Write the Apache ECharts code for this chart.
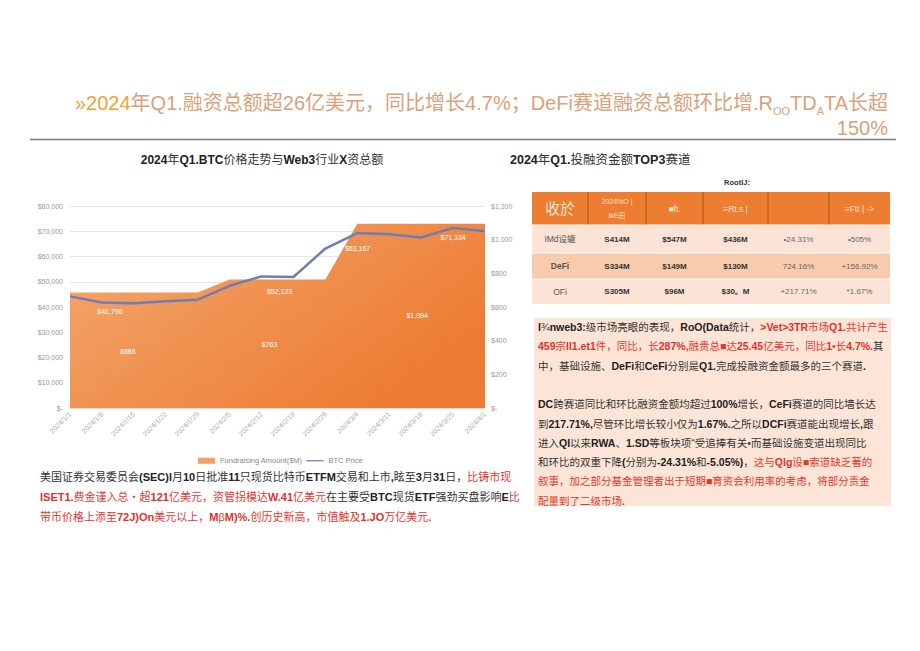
<!DOCTYPE html>
<html><head><meta charset="utf-8">
<script src="https://cdn.jsdelivr.net/npm/echarts@6/dist/echarts.min.js"></script>
<style>html,body{margin:0;padding:0;background:#fff}#c{width:920px;height:651px}</style>
</head><body><div id="c"></div>
<script>
// ---------- data ----------
const categories = ['2024/1/1','2024/1/8','2024/1/15','2024/1/22','2024/1/29','2024/2/5','2024/2/12','2024/2/19','2024/2/26','2024/3/4','2024/3/11','2024/3/18','2024/3/25','2024/4/1'];
const fundraising = [686,686,686,686,686,763,763,763,763,1094,1094,1094,1094,1094];
const btcPrice = [44200,41796,41500,42300,42900,48400,52123,51900,63167,69300,68800,67500,71334,70000];
const leftTickLabels = ['$-','$10,000','$20,000','$30,000','$40,000','$50,000','$60,000','$70,000','$80,000'];
const rightTickLabels = ['$-','$200','$400','$600','$800','$1,000','$1,200'];
const fundLabelIdx = [2,6,11];
const btcLabelIdx = [1,6,8,12];
const tableHeader = ['收於','2024%O |\nlkE田','■ft.','≡Rt.s |','','≡Ftt | ->'];
const tableRows = [
  ['IMd设辘','S414M','$547M','$436M','•24.31%','•505%'],
  ['DeFi','S334M','$149M','$130M','724.16%','+156.92%'],
  ['OFi','S305M','$96M','$30。M','+217.71%','*1.67%']
];
const pageTitle = '»2024年Q1.融资总额超26亿美元，同比增长4.7%；DeFi赛道融资总额环比增.RooTDATA长超150%';
const leftChartTitle = '2024年Q1.BTC价格走势与Web3行业X资总额';
const rightChartTitle = '2024年Q1.投融资金额TOP3赛道';
const tableNote = 'RootIJ:';
const leftNote = [
  [['k','美国证券交易委员会(SEC)l月10日批准11只现货比特币ETFM交易和上市,眩至3月31日，'],['r','比铸市现']],
  [['r','ISET1.费金谨入总・超121亿美元，资管拐模达W.41亿美元'],['k','在主要受BTC现货ETF强劲买盘影响E'],['r','比']],
  [['r','带币价格上添至72J)On美元以上，MβM)%.创历史新高，市值触及1.JO万亿美元.']]
];
const rightNote = [
  [['k','I¾nweb3:级市场亮眼的表现，RoO(Data统计，'],['r','>Vet>3TR市场Q1.共计产生']],
  [['r','459宗ll1.et1件，同比，长287%,融贵总■达25.45亿美元，同比1•长4.7%.'],['k','其']],
  [['k','中，基础设施、DeFi和CeFi分别是Q1.完成投融资金额最多的三个赛道.']],
  [],
  [['k','DC跨赛道同比和环比融资金额均超过100%增长，CeFi赛道的同比墙长达']],
  [['k','到217.71%,尽管环比增长较小仅为1.67%.之所以DCFi赛道能出现增长,跟']],
  [['k','进入QI以来RWA、1.SD等板块项“受追捧有关•而基础设施变道出现同比']],
  [['k','和环比的双重下降(分别为-24.31%和-5.05%)，'],['r','这与QIg设■索道缺乏著的']],
  [['r','叙事，加之部分基金管理者出于短期■育资会利用率的考虑，将部分责金']],
  [['r','配量到了二级市场.']]
];

// ---------- helpers ----------
const FF = "'Liberation Sans','Noto Sans CJK SC',sans-serif";
function mixRich(segs){
  return segs.map(([c,t]) => (t.match(/[\x00-\x7F]+|[^\x00-\x7F]+/g)||[]).map(p =>
    '{' + c + (/[\x00-\x7F]/.test(p[0]) ? 'b' : 'n') + '|' + p + '}').join('')).join('');
}
function richStyles(size, lh){
  const mk = (color, w) => ({fill:color, fontWeight:w, fontSize:size, lineHeight:lh, fontFamily:FF});
  return {kb:mk('#222','bold'), kn:mk('#333','normal'), rb:mk('#e2312c','bold'), rn:mk('#e5392f','normal')};
}
const fmt = v => '$' + Math.round(v).toLocaleString('en-US');

// ---------- series data ----------
const fundData = fundraising.map((v,i) => {
  const k = fundLabelIdx.indexOf(i);
  if (k < 0) return v;
  const offs = [[-6,50],[8,56],[-4,83]][k];
  return {value:v, symbol:'circle', symbolSize:1,
    label:{show:true, position:'bottom', offset:offs, color:'#fff', fontSize:7, fontFamily:FF, formatter:p=>fmt(p.value)}};
});
const btcData = btcPrice.map((v,i) => {
  const k = btcLabelIdx.indexOf(i);
  if (k < 0) return v;
  const cfg = [['bottom',[8,0]],['bottom',[18,6]],['right',[14,0]],['bottom',[0,1]]][k];
  return {value:v, symbol:'circle', symbolSize:1,
    label:{show:true, position:cfg[0], offset:cfg[1], color:'#fff', fontSize:7, fontFamily:FF, formatter:p=>fmt(p.value)}};
});

// ---------- graphic elements ----------
const g = [];
const tMain = pageTitle.slice(0, pageTitle.indexOf('.RooTDATA'));
g.push({type:'text', x:75, y:103, style:{
  text:'{o|»2024}{t|' + tMain.slice(5) + '.R}{s|OO}{t|TD}{s|A}{t|TA长超}',
  verticalAlign:'middle',
  rich:{
    o:{fill:'#f1a238', fontSize:20, fontFamily:FF, lineHeight:26},
    t:{fill:'#d8a27a', fontSize:20, fontFamily:FF, lineHeight:26},
    s:{fill:'#d8a27a', fontSize:11, fontFamily:FF, lineHeight:26, verticalAlign:'bottom', padding:[8,0,0,0]}
  }}});
g.push({type:'text', x:888, y:128, style:{text:'150%', align:'right', verticalAlign:'middle', fill:'#d8a27a', fontSize:20, fontFamily:FF}});
g.push({type:'line', shape:{x1:30,y1:139.5,x2:896,y2:139.5}, style:{stroke:'#7b7b7b', lineWidth:1.5}});
g.push({type:'text', x:262, y:160, style:{text:mixRich([['k',leftChartTitle]]), align:'center', verticalAlign:'middle', rich:richStyles(12,16)}});
g.push({type:'text', x:510, y:160, style:{text:mixRich([['k',rightChartTitle]]), align:'left', verticalAlign:'middle', rich:richStyles(12.5,16)}});
g.push({type:'text', x:737, y:182, style:{text:tableNote, align:'center', verticalAlign:'middle', fill:'#333', fontSize:7.5, fontWeight:'bold', fontFamily:FF}});
// table
const colX = [532,588,646,703,768,829,890];
const rowY = [192,225,253,279,304];
const rowFill = ['#ed7d31','#fbe4d5','#f8cbad','#fbe4d5'];
for (let r=0; r<4; r++){
  g.push({type:'rect', shape:{x:colX[0], y:rowY[r], width:colX[6]-colX[0], height:rowY[r+1]-rowY[r]}, style:{fill:rowFill[r]}});
}
for (let c=1; c<6; c++){
  g.push({type:'line', shape:{x1:colX[c],y1:rowY[0],x2:colX[c],y2:rowY[1]}, style:{stroke:'#a8561f', lineWidth:1}});
}
for (let r=1; r<4; r++){
  g.push({type:'line', shape:{x1:colX[0],y1:rowY[r],x2:colX[6],y2:rowY[r]}, style:{stroke:'#ffffff', lineWidth:1}});
}
tableHeader.forEach((h,c) => {
  g.push({type:'text', x:(colX[c]+colX[c+1])/2, y:(rowY[0]+rowY[1])/2, style:{text:h, align:'center', verticalAlign:'middle',
    fill:'#fde3cf', fontSize: c===0 ? 15 : (c===1 ? 7 : 8.5), lineHeight: c===1 ? 14 : 16, fontWeight:'normal', fontFamily:FF}});
});
tableRows.forEach((row,r) => row.forEach((v,c) => {
  g.push({type:'text', x:(colX[c]+colX[c+1])/2, y:(rowY[r+1]+rowY[r+2])/2, style:{text:v, align:'center', verticalAlign:'middle',
    fill: c===0 ? '#555' : (c>=4 ? '#666' : '#333'), fontSize: c===0 ? 8.5 : 8, fontWeight: (c>=1 && c<=3) || (c===0 && r===1) ? 'bold':'normal', fontFamily:FF}});
}));
leftNote.forEach((ln,i) => {
  g.push({type:'text', x:40, y:477 + i*20, style:{text:mixRich(ln), verticalAlign:'middle', rich:richStyles(11,16)}});
});
g.push({type:'rect', shape:{x:534, y:318, width:357, height:188}, style:{fill:'#fce4d6'}});
rightNote.forEach((ln,i) => {
  if (!ln.length) return;
  g.push({type:'text', x:538, y:327 + i*19.3, style:{text:mixRich(ln), verticalAlign:'middle', rich:richStyles(10.5,16)}});
});

// ---------- chart ----------
const chart = echarts.init(document.getElementById('c'), null, {renderer:'svg'});
chart.setOption({
  backgroundColor:'#fff',
  animation:false,
  textStyle:{fontFamily:FF},
  grid:{left:70, right:435, top:206, bottom:243},
  legend:{left:193, top:452, itemWidth:17, itemHeight:6, itemGap:4,
    textStyle:{fontSize:7.5, color:'#888', fontFamily:FF},
    data:[{name:'Fundraising Amount($M)', icon:'rect', itemStyle:{color:'#f0a062'}},
          {name:'BTC Price', icon:'path://M0,0H40V3H0Z', itemStyle:{color:'#6e7db6'}}]},
  xAxis:{type:'category', boundaryGap:false, data:categories,
    axisLine:{lineStyle:{color:'#ddd'}}, axisTick:{show:false},
    axisLabel:{rotate:45, interval:0, fontSize:7, color:'#aaa', margin:5}},
  yAxis:[
    {type:'value', min:0, max:80000, interval:10000, position:'left',
      axisLine:{show:false}, axisTick:{show:false},
      axisLabel:{fontSize:7, color:'#999', margin:7, formatter:(v)=>leftTickLabels[Math.round(v/10000)]},
      splitLine:{lineStyle:{color:'#e6e6e6'}}},
    {type:'value', min:0, max:1200, interval:200, position:'right',
      axisLine:{show:false}, axisTick:{show:false}, splitLine:{show:false},
      axisLabel:{fontSize:7, color:'#999', margin:6, formatter:(v)=>rightTickLabels[Math.round(v/200)]}}
  ],
  series:[
    {name:'Fundraising Amount($M)', type:'line', yAxisIndex:1, data:fundData, symbol:'none', z:1,
      lineStyle:{width:0, color:'#f0a062'}, itemStyle:{color:'#f0a062'},
      areaStyle:{opacity:1, color:new echarts.graphic.LinearGradient(0,0,1,0.6,[{offset:0,color:'#f3a96f'},{offset:1,color:'#ed7b32'}])}},
    {name:'BTC Price', type:'line', yAxisIndex:0, data:btcData, symbol:'none', z:3,
      lineStyle:{width:2.5, color:'#6e7db6'}, itemStyle:{color:'#6e7db6'}}
  ],
  graphic:g
});
</script></body></html>
